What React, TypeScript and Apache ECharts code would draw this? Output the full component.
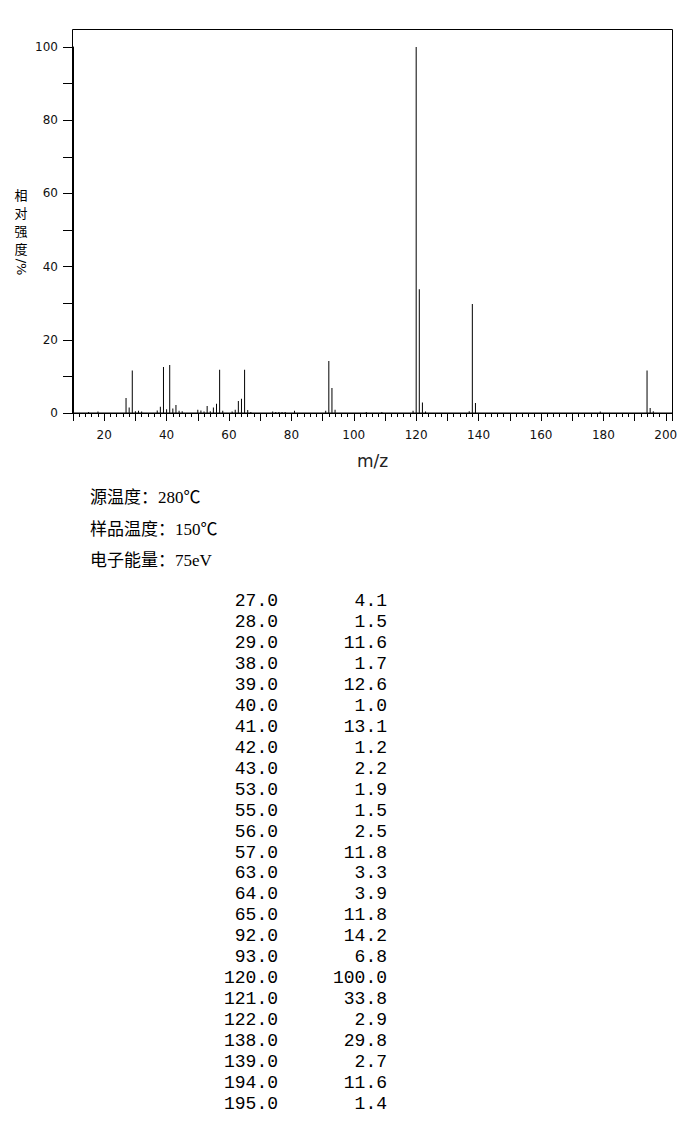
import React, { useEffect, useRef } from "react";
import * as echarts from "echarts";

// Listed peaks (m/z, relative intensity %)
const peakMz = [27, 28, 29, 38, 39, 40, 41, 42, 43, 53, 55, 56, 57, 63, 64, 65, 92, 93, 120, 121, 122, 138, 139, 194, 195];
const peakInt = [4.1, 1.5, 11.6, 1.7, 12.6, 1.0, 13.1, 1.2, 2.2, 1.9, 1.5, 2.5, 11.8, 3.3, 3.9, 11.8, 14.2, 6.8, 100.0, 33.8, 2.9, 29.8, 2.7, 11.6, 1.4];

// Small unlisted peaks
const minorMz = [15, 18, 30, 31, 32, 37, 44, 45, 50, 51, 52, 54, 58, 61, 62, 66, 67, 74, 75, 76, 77, 78, 81, 91, 94, 104, 109, 119, 123, 137, 179, 196];
const minorInt = [0.3, 0.4, 0.5, 0.6, 0.4, 0.7, 0.6, 0.5, 0.9, 0.7, 0.4, 0.5, 0.6, 0.4, 0.9, 0.8, 0.3, 0.4, 0.3, 0.3, 0.3, 0.3, 0.6, 0.6, 0.9, 0.3, 0.3, 0.6, 0.4, 0.5, 0.4, 0.5];

const infoLines = ["源温度：280℃", "样品温度：150℃", "电子能量：75eV"];
const yNameChars = ["相", "对", "强", "度"];
const yNameUnit = "/%";

export default function App() {
  const ref = useRef<HTMLDivElement>(null);

  useEffect(() => {
    if (!ref.current) return;
    const chart = echarts.init(ref.current, undefined, { renderer: "svg" });

    const barData: number[][] = [];
    minorMz.forEach((m, i) => barData.push([m, minorInt[i]]));
    peakMz.forEach((m, i) => barData.push([m, peakInt[i]]));

    const graphics: any[] = [];
    // Frame
    graphics.push({
      type: "rect",
      shape: { x: 72.5, y: 29.5, width: 600, height: 383.5 },
      style: { fill: "none", stroke: "#000", lineWidth: 1 },
      silent: true,
    });
    // Y axis name (vertical, stacked characters)
    yNameChars.forEach((c, i) => {
      graphics.push({
        type: "text",
        x: 21,
        y: 194 + i * 18,
        style: {
          text: c,
          fill: "#000",
          font: '13px "Noto Sans CJK SC", sans-serif',
          lineHeight: 14,
          align: "center",
          verticalAlign: "middle",
        },
      });
    });
    graphics.push({
      type: "text",
      x: 21,
      y: 267,
      rotation: -Math.PI / 2,
      style: {
        text: yNameUnit,
        fill: "#000",
        font: '13px "DejaVu Sans", sans-serif',
        align: "center",
        verticalAlign: "middle",
      },
    });
    // Info lines
    infoLines.forEach((t, i) => {
      graphics.push({
        type: "text",
        x: 90,
        y: [497, 529, 560][i],
        style: {
          text: t,
          fill: "#000",
          font: '17px "Liberation Serif", "Noto Sans CJK SC", serif',
          align: "left",
          verticalAlign: "middle",
        },
      });
    });
    // Table
    const pitch = (1104 - 601) / 24;
    peakMz.forEach((m, i) => {
      const y = 601 + i * pitch;
      graphics.push({
        type: "text",
        x: 278,
        y,
        style: {
          text: m.toFixed(1),
          fill: "#000",
          font: '18px "Liberation Mono", monospace',
          align: "right",
          verticalAlign: "middle",
        },
      });
      graphics.push({
        type: "text",
        x: 387,
        y,
        style: {
          text: peakInt[i].toFixed(1),
          fill: "#000",
          font: '18px "Liberation Mono", monospace',
          align: "right",
          verticalAlign: "middle",
        },
      });
    });

    chart.setOption({
      animation: false,
      backgroundColor: "#fff",
      grid: { left: 73, right: 24, top: 47, bottom: 1134 - 413, containLabel: false },
      xAxis: [
        {
          type: "value",
          min: 10,
          max: 202,
          interval: 2,
          position: "bottom",
          name: "m/z",
          nameLocation: "middle",
          nameGap: 39,
          nameTextStyle: { fontFamily: "DejaVu Sans", fontSize: 17, color: "#222" },
          axisLine: { show: true, onZero: false, lineStyle: { color: "#000", width: 1 } },
          axisTick: { show: true, length: 4, lineStyle: { color: "#000" } },
          axisLabel: {
            margin: 16,
            fontFamily: "DejaVu Sans",
            fontSize: 12,
            color: "#111",
            formatter: (v: number) => (v % 20 === 0 ? String(v) : ""),
            showMinLabel: true,
            showMaxLabel: true,
          },
          splitLine: { show: false },
        },
        {
          type: "value",
          min: 10,
          max: 202,
          interval: 10,
          position: "bottom",
          axisLine: { show: false, onZero: false },
          axisTick: { show: true, length: 8, lineStyle: { color: "#000" } },
          axisLabel: { show: false },
          splitLine: { show: false },
        },
      ],
      yAxis: {
        type: "value",
        min: 0,
        max: 100,
        interval: 10,
        axisLine: { show: true, lineStyle: { color: "#000", width: 1 } },
        axisTick: { show: true, length: 10, lineStyle: { color: "#000" } },
        axisLabel: {
          margin: 15,
          fontFamily: "DejaVu Sans",
          fontSize: 12,
          color: "#111",
          formatter: (v: number) => (v % 20 === 0 ? String(v) : ""),
        },
        splitLine: { show: false },
      },
      series: [
        {
          type: "bar",
          xAxisIndex: 0,
          yAxisIndex: 0,
          barWidth: 1,
          data: barData,
          itemStyle: { color: "#000" },
          silent: true,
        },
      ],
      graphic: graphics,
    });

    return () => chart.dispose();
  }, []);

  return (
    <div
      ref={ref}
      style={{ position: "absolute", left: 0, top: 0, width: 696, height: 1134, background: "#fff" }}
    />
  );
}
